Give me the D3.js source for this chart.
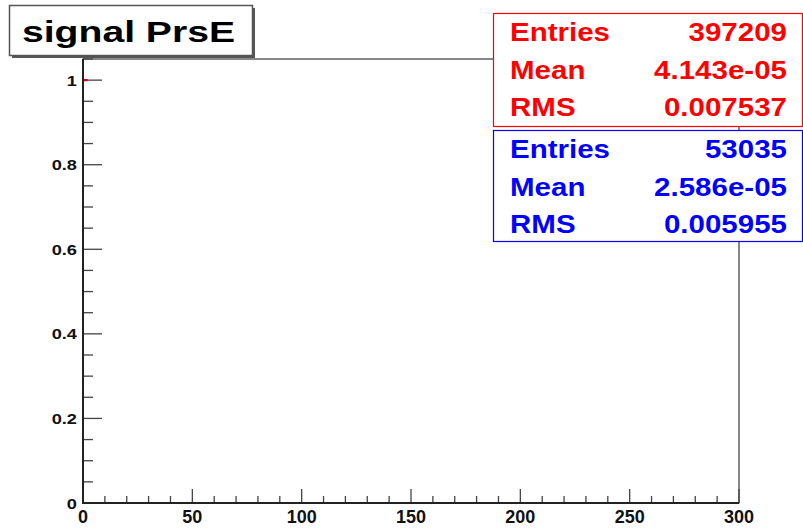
<!DOCTYPE html>
<html lang="en">
<head>
    <meta charset="UTF-8">
    <title>signal PrsE</title>
    <script src="https://d3js.org/d3.v7.min.js"></script>
    <style>
        body { margin: 0; background: #fff; }
        text { font-family: 'Liberation Sans', Arial, sans-serif; font-weight: bold; }
    </style>
</head>
<body>
<script>
    const width  = 803;
    const height = 528;

    // histogram bins (normalised), everything lands in the first bin
    const binEdges = [0, 2];
    const signalValues = [1];
    const otherValues = [1];

    const statLabels = ["Entries", "Mean", "RMS"];
    const signalStats = ["397209", "4.143e-05", "0.007537"];
    const otherStats = ["53035", "2.586e-05", "0.005955"];

    const xTicks = [0, 50, 100, 150, 200, 250, 300];
    const yTicks = [0, 0.2, 0.4, 0.6, 0.8, 1];

    const margin = {left: 83, right: 739, top: 59, bottom: 503};

    const x = d3.scaleLinear().domain([0, 300]).range([margin.left, margin.right]);
    const y = d3.scaleLinear().domain([0, 1.05]).range([margin.bottom, margin.top]);

    const svg = d3.select("body").append("svg").attr("width", width).attr("height", height);

    // frame
    svg.append("rect")
        .attr("x", margin.left).attr("y", margin.top)
        .attr("width", margin.right - margin.left).attr("height", margin.bottom - margin.top)
        .attr("fill", "none").attr("stroke", "#111").attr("stroke-width", 1);

    // x axis ticks
    const xMinor = d3.range(0, 301, 10);
    svg.selectAll(".xt").data(xMinor).join("line")
        .attr("x1", d => x(d)).attr("x2", d => x(d))
        .attr("y1", margin.bottom)
        .attr("y2", d => margin.bottom - (d % 50 === 0 ? 14 : 7))
        .attr("stroke", "#444").attr("stroke-width", 1.3);
    svg.selectAll(".xl").data(xTicks).join("text")
        .attr("x", d => x(d)).attr("y", 523)
        .attr("text-anchor", "middle")
        .style("font-size", "18px").attr("fill", "#111")
        .text(d => d);

    // y axis ticks
    const yMinor = d3.range(0, 21).map(i => i * 0.05);
    yMinor.push(1.05);
    svg.selectAll(".yt").data(yMinor).join("line")
        .attr("x1", margin.left)
        .attr("x2", d => margin.left + (Math.abs(d * 5 - Math.round(d * 5)) < 1e-6 ? 19 : 10))
        .attr("y1", d => y(d)).attr("y2", d => y(d))
        .attr("stroke", "#444").attr("stroke-width", 1.3);
    svg.selectAll(".yl").data(yTicks).join("text")
        .attr("x", 77).attr("y", d => y(d) + 5.5)
        .attr("text-anchor", "end")
        .style("font-size", "14px").attr("fill", "#111")
        .text(d => d3.format("~g")(d))
        .each(function() {
            const w = this.getComputedTextLength();
            d3.select(this).attr("textLength", w * 1.3).attr("lengthAdjust", "spacingAndGlyphs");
        });

    // histogram bin tops (sides sit on the axis)
    function binTops(values) {
        return values.map((v, i) => ({x0: binEdges[i], x1: binEdges[i + 1], v: v}));
    }
    svg.selectAll(".hb").data(binTops(otherValues)).join("line")
        .attr("x1", d => x(d.x0)).attr("x2", d => x(d.x1))
        .attr("y1", d => y(d.v)).attr("y2", d => y(d.v))
        .attr("stroke", "#0000ff").attr("stroke-width", 2);
    svg.selectAll(".hr").data(binTops(signalValues)).join("line")
        .attr("x1", d => x(d.x0)).attr("x2", d => x(d.x1))
        .attr("y1", d => y(d.v)).attr("y2", d => y(d.v))
        .attr("stroke", "#dd0000").attr("stroke-width", 2);

    // axis lines on top
    svg.append("line").attr("x1", margin.left).attr("x2", margin.left)
        .attr("y1", margin.top).attr("y2", margin.bottom + 1)
        .attr("stroke", "#222").attr("stroke-width", 2);
    svg.append("line").attr("x1", margin.left - 1).attr("x2", margin.right)
        .attr("y1", margin.bottom).attr("y2", margin.bottom)
        .attr("stroke", "#222").attr("stroke-width", 2);

    // title box with shadow
    svg.append("rect").attr("x", 12).attr("y", 8).attr("width", 243).attr("height", 50).attr("fill", "#555");
    svg.append("rect").attr("x", 9.5).attr("y", 5.5).attr("width", 243).attr("height", 50)
        .attr("fill", "#fff").attr("stroke", "#555").attr("stroke-width", 1.5);
    svg.append("text").attr("x", 22).attr("y", 42)
        .style("font-size", "30px").attr("fill", "#000")
        .attr("textLength", 213).attr("lengthAdjust", "spacingAndGlyphs")
        .text("signal PrsE");

    // stats boxes
    function statBox(top, bottom, color, values) {
        svg.append("rect").attr("x", 493.5).attr("y", top).attr("width", 309).attr("height", bottom - top)
            .attr("fill", "#fff").attr("stroke", color).attr("stroke-width", 1.2);
        statLabels.forEach((lab, i) => {
            const base = top + 27.5 + i * 37.5;
            svg.append("text").attr("x", 510).attr("y", base)
                .style("font-size", "25px").attr("fill", color)
                .text(lab)
                .each(function() {
                    const w = this.getComputedTextLength();
                    d3.select(this).attr("textLength", w * 1.18).attr("lengthAdjust", "spacingAndGlyphs");
                });
            svg.append("text").attr("x", 787).attr("y", base)
                .attr("text-anchor", "end")
                .style("font-size", "25px").attr("fill", color)
                .text(values[i])
                .each(function() {
                    const w = this.getComputedTextLength();
                    d3.select(this).attr("textLength", w * 1.18).attr("lengthAdjust", "spacingAndGlyphs");
                });
        });
    }
    statBox(13.5, 126.5, "#ff0000", signalStats);
    statBox(130.5, 241.5, "#0000ff", otherStats);
</script>
</body>
</html>
